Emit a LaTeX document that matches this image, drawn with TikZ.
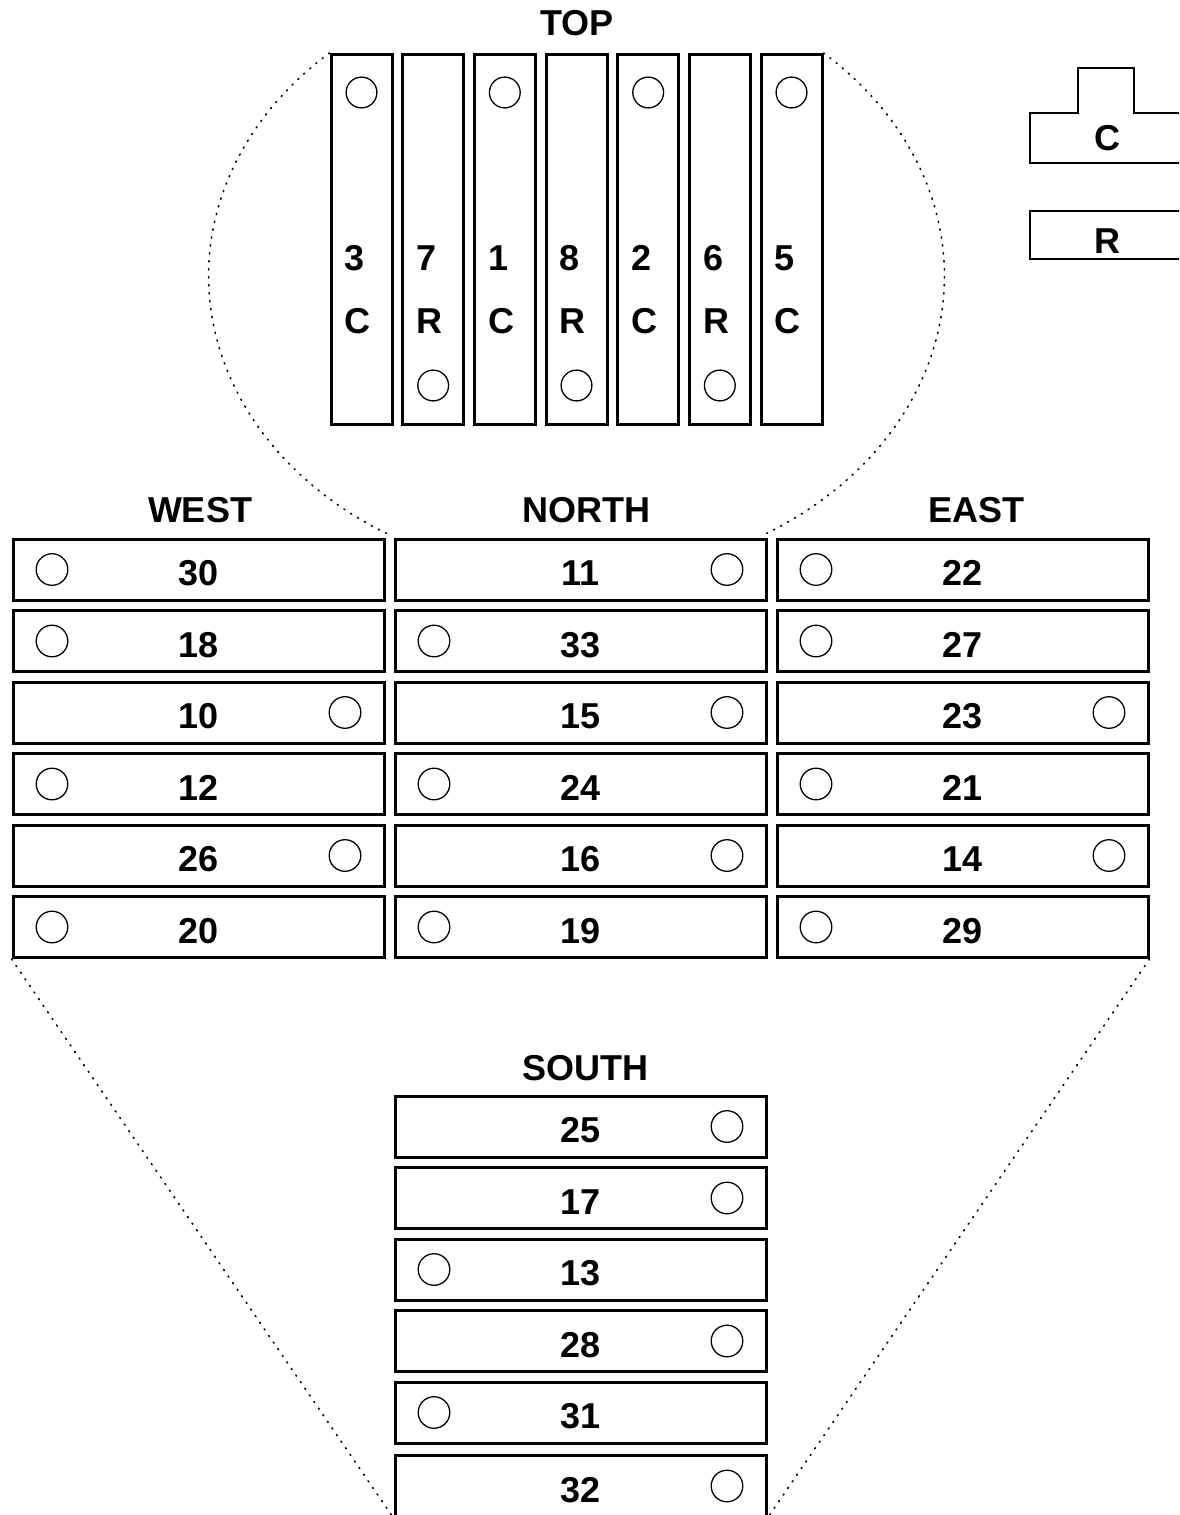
\documentclass[tikz,border=0pt]{standalone}
\usepackage{fontspec}
\setmainfont{Liberation Sans}
\begin{document}
\begin{tikzpicture}[
		x=0.5pt, y=-0.5pt,
		slot/.style={
			draw,
			line width=1.5pt,
			minimum width=185.5pt,
			minimum height=30.5pt,
			inner sep=0pt,
			text height=16pt,
			text depth=0pt,
			font=\bfseries\fontsize{18}{22}\selectfont
		},
		bar/.style={
			draw,
			line width=1.5pt,
			minimum width=30.5pt,
			minimum height=185pt,
			inner sep=0pt
		},
		holeleft/.style={path picture={\draw[line width=0.65pt] ([xshift=19.5pt]path picture bounding box.west) circle (7.9pt);}},
		holeright/.style={path picture={\draw[line width=0.65pt] ([xshift=-19.5pt]path picture bounding box.east) circle (7.9pt);}},
		holetop/.style={path picture={\draw[line width=0.65pt] ([yshift=-19pt]path picture bounding box.north) circle (7.7pt);}},
		holebottom/.style={path picture={\draw[line width=0.65pt] ([yshift=19.5pt]path picture bounding box.south) circle (7.7pt);}},
		head/.style={anchor=base, inner sep=0pt, font=\bfseries\fontsize{18}{22}\selectfont},
		numtag/.style={head, anchor=base west, xshift=-8.5pt, yshift=-15.25pt},
		typetag/.style={head, anchor=base west, xshift=-8.5pt, yshift=-46.75pt},
		key/.style={draw, line width=0.75pt},
		guide/.style={line width=0.8pt, dash pattern=on 0.6pt off 3.4pt, line cap=round}
		]
		
		\useasboundingbox (0,0) rectangle (1179,1515);
		\clip (0,0) rectangle (1179,1515);
		
		% Top bars
		\node[head] (top) at (577,35) {TOP};
		\node[bar, holetop] (b3) at (361.5,239.5) {};
		\node[bar, holebottom] (b7) at (433.2,239.5) {};
		\node[bar, holetop] (b1) at (504.8,239.5) {};
		\node[bar, holebottom] (b8) at (576.5,239.5) {};
		\node[bar, holetop] (b2) at (648.2,239.5) {};
		\node[bar, holebottom] (b6) at (719.8,239.5) {};
		\node[bar, holetop] (b5) at (791.5,239.5) {};
		
		\node[numtag] (n3) at (b3.center) {3};
		\node[typetag] (t3) at (b3.center) {C};
		\node[numtag] (n7) at (b7.center) {7};
		\node[typetag] (t7) at (b7.center) {R};
		\node[numtag] (n1) at (b1.center) {1};
		\node[typetag] (t1) at (b1.center) {C};
		\node[numtag] (n8) at (b8.center) {8};
		\node[typetag] (t8) at (b8.center) {R};
		\node[numtag] (n2) at (b2.center) {2};
		\node[typetag] (t2) at (b2.center) {C};
		\node[numtag] (n6) at (b6.center) {6};
		\node[typetag] (t6) at (b6.center) {R};
		\node[numtag] (n5) at (b5.center) {5};
		\node[typetag] (t5) at (b5.center) {C};
		
		% Key
		\draw[key] (1179,113) -- (1134,113) -- (1134,68) -- (1078,68) -- (1078,113) -- (1030,113) -- (1030,163) -- (1179,163);
		\node[head] (keyc) at (1107,150) {C};
		\draw[key] (1179,211) -- (1030,211) -- (1030,259) -- (1179,259);
		\node[head] (keyr) at (1107,253) {R};
		
		% West column
		\node[head] (west) at (200,522) {WEST};
		\node[slot, holeleft] (w30) at (198.5,569.5) {30};
		\node[slot, holeleft] (w18) at (198.5,641) {18};
		\node[slot, holeright] (w10) at (198.5,712.5) {10};
		\node[slot, holeleft] (w12) at (198.5,784) {12};
		\node[slot, holeright] (w26) at (198.5,855.5) {26};
		\node[slot, holeleft] (w20) at (198.5,927) {20};
		
		% North column
		\node[head] (north) at (586,522) {NORTH};
		\node[slot, holeright] (n11) at (580.5,569.5) {11};
		\node[slot, holeleft] (n33) at (580.5,641) {33};
		\node[slot, holeright] (n15) at (580.5,712.5) {15};
		\node[slot, holeleft] (n24) at (580.5,784) {24};
		\node[slot, holeright] (n16) at (580.5,855.5) {16};
		\node[slot, holeleft] (n19) at (580.5,927) {19};
		
		% East column
		\node[head] (east) at (976,522) {EAST};
		\node[slot, holeleft] (e22) at (962.5,569.5) {22};
		\node[slot, holeleft] (e27) at (962.5,641) {27};
		\node[slot, holeright] (e23) at (962.5,712.5) {23};
		\node[slot, holeleft] (e21) at (962.5,784) {21};
		\node[slot, holeright] (e14) at (962.5,855.5) {14};
		\node[slot, holeleft] (e29) at (962.5,927) {29};
		
		% South column
		\node[head] (south) at (585,1080) {SOUTH};
		\node[slot, holeright] (s25) at (580.5,1126.5) {25};
		\node[slot, holeright] (s17) at (580.5,1198) {17};
		\node[slot, holeleft] (s13) at (580.5,1269.5) {13};
		\node[slot, holeright] (s28) at (580.5,1341) {28};
		\node[slot, holeleft] (s31) at (580.5,1412.5) {31};
		\node[slot, holeright] (s32) at (580.5,1486) {32};
		
		% Dotted outline
		\draw[guide] (b3.north west) arc[start angle=132.07, end angle=239, x radius=183.25pt, y radius=150.15pt];
		\draw[guide] (b5.north east) arc[start angle=47.93, end angle=-59, x radius=183.25pt, y radius=150.15pt];
		\draw[guide] (w20.south west) -- (s32.south west);
		\draw[guide] (e29.south east) -- (s32.south east);
		
	\end{tikzpicture}
\end{document}
